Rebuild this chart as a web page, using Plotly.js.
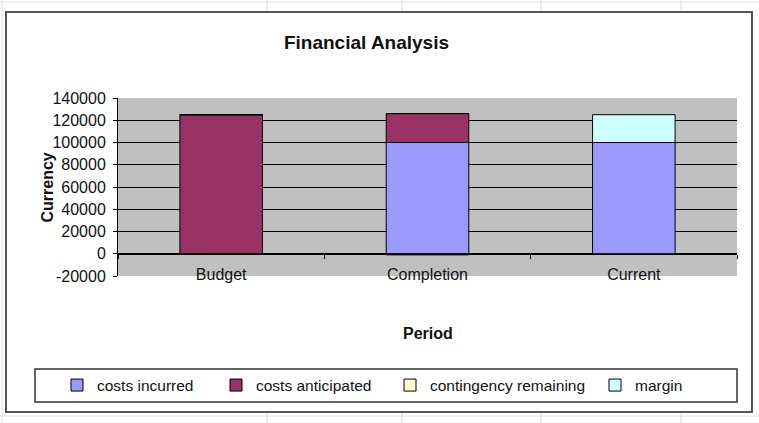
<!DOCTYPE html>
<html>
<head>
<meta charset="utf-8">
<script src="https://cdn.plot.ly/plotly-3.0.1.min.js"></script>
<style>
html, body { margin: 0; padding: 0; background: #ffffff; }
#chart { width: 759px; height: 423px; }
</style>
</head>
<body>
<div id="chart"></div>
<script>
// ---- data ----
const categories = ['Budget', 'Completion', 'Current'];
const costsIncurred = [0, 100000, 100000];
const costsAnticipated = [125000, 26000, 0];
const contingencyRemaining = [0, -1000, 0];
const margin = [0, 0, 25000];
const seriesNames = ['costs incurred', 'costs anticipated', 'contingency remaining', 'margin'];
const seriesColors = ['#9999FF', '#993366', '#FFFFCC', '#CCFFFF'];
const yTicks = [-20000, 0, 20000, 40000, 60000, 80000, 100000, 120000, 140000];

// ---- layout geometry (pixels) ----
const W = 759, H = 423;
const M = { l: 118, r: 22, t: 98, b: 147 };
const PW = W - M.l - M.r, PH = H - M.t - M.b;
const px2x = p => (p - M.l) / PW;
const py2y = p => (H - M.b - p) / PH;

const FONT = 'Liberation Sans, Arial, sans-serif';
const seriesValues = [costsIncurred, costsAnticipated, contingencyRemaining, margin];
const legendTextStart = [97, 256, 430, 635];
const legendIds = ['legend', 'legend2', 'legend3', 'legend4'];

const traces = seriesNames.map((name, i) => ({
  type: 'bar',
  name: name,
  x: categories,
  y: seriesValues[i],
  marker: { color: seriesColors[i], line: { color: '#000000', width: 1 } },
  legend: legendIds[i],
  showlegend: true,
  hoverinfo: 'x+y+name'
}));

const layout = {
  width: W, height: H,
  margin: M,
  showlegend: true,
  paper_bgcolor: '#ffffff',
  plot_bgcolor: '#C0C0C0',
  barmode: 'relative',
  bargap: 0.6,
  font: { family: FONT, size: 16, color: '#111111' },
  title: {
    text: 'Financial Analysis',
    font: { family: FONT, size: 19, weight: 'bold', color: '#111111' },
    x: 366.5 / W, xref: 'container', xanchor: 'center',
    y: 1 - 42 / H, yref: 'container', yanchor: 'middle'
  },
  xaxis: {
    type: 'category',
    anchor: 'free',
    position: (0 - yTicks[0]) / (yTicks[yTicks.length - 1] - yTicks[0]),
    showline: true, linecolor: '#000000', linewidth: 1,
    ticks: 'outside', ticklen: 4, tickcolor: '#000000',
    tickson: 'boundaries',
    showgrid: false,
    ticklabelstandoff: 6,
    tickfont: { family: FONT, size: 16, color: '#111111' },
    automargin: false
  },
  yaxis: {
    range: [yTicks[0], yTicks[yTicks.length - 1]],
    tickvals: yTicks,
    ticktext: yTicks.map(String),
    showline: true, linecolor: '#000000', linewidth: 1,
    ticks: 'outside', ticklen: 4, tickcolor: '#000000',
    showgrid: true, gridcolor: '#000000', gridwidth: 1,
    zeroline: true, zerolinecolor: '#000000', zerolinewidth: 1,
    ticklabelstandoff: 4,
    tickfont: { family: FONT, size: 16, color: '#111111' },
    automargin: false
  },
  annotations: [
    { text: 'Currency', textangle: -90, showarrow: false,
      xref: 'paper', yref: 'paper', x: px2x(46.5), y: py2y(188), xanchor: 'center', yanchor: 'middle',
      font: { family: FONT, size: 16, weight: 'bold', color: '#111111' } },
    { text: 'Period', showarrow: false,
      xref: 'paper', yref: 'paper', x: 0.5, y: py2y(333), xanchor: 'center', yanchor: 'middle',
      font: { family: FONT, size: 16, weight: 'bold', color: '#111111' } }
  ],
  shapes: [],
  hovermode: 'closest'
};

// four single-item legends placed along one row inside the legend frame
legendIds.forEach((id, i) => {
  layout[id] = {
    xref: 'container', yref: 'container',
    x: (legendTextStart[i] - 40) / W, xanchor: 'left',
    y: 1 - 385.5 / H, yanchor: 'middle',
    orientation: 'h',
    visible: true,
    bgcolor: 'rgba(0,0,0,0)', borderwidth: 0,
    font: { family: FONT, size: 15.5, color: '#111111' },
    itemwidth: 30
  };
});

// spreadsheet background lines
const sheetCols = [267, 402, 541, 681];
sheetCols.forEach(c => {
  layout.shapes.push({ type: 'line', xref: 'paper', yref: 'paper', x0: px2x(c), x1: px2x(c), y0: py2y(0), y1: py2y(12), line: { color: '#d8d8d8', width: 1 }, layer: 'below' });
  layout.shapes.push({ type: 'line', xref: 'paper', yref: 'paper', x0: px2x(c), x1: px2x(c), y0: py2y(412), y1: py2y(423), line: { color: '#d8d8d8', width: 1 }, layer: 'below' });
});
layout.shapes.push({ type: 'line', xref: 'paper', yref: 'paper', x0: px2x(0), x1: px2x(W), y0: py2y(2), y1: py2y(2), line: { color: '#e0e0e0', width: 1 }, layer: 'below' });
layout.shapes.push({ type: 'line', xref: 'paper', yref: 'paper', x0: px2x(2), x1: px2x(2), y0: py2y(0), y1: py2y(H), line: { color: '#e0e0e0', width: 1 }, layer: 'below' });
layout.shapes.push({ type: 'line', xref: 'paper', yref: 'paper', x0: px2x(0), x1: px2x(W), y0: py2y(416), y1: py2y(416), line: { color: '#e0e0e0', width: 1 }, layer: 'below' });

// chart frame
layout.shapes.push({ type: 'rect', xref: 'paper', yref: 'paper', x0: px2x(6), x1: px2x(752), y0: py2y(412), y1: py2y(12), line: { color: '#555555', width: 2 }, fillcolor: 'rgba(0,0,0,0)', layer: 'below' });
// legend frame
layout.shapes.push({ type: 'rect', xref: 'paper', yref: 'paper', x0: px2x(35), x1: px2x(737), y0: py2y(402), y1: py2y(369), line: { color: '#333333', width: 1.5 }, fillcolor: 'rgba(0,0,0,0)', layer: 'above' });

Plotly.newPlot('chart', traces, layout, { displayModeBar: false, responsive: false });
</script>
</body>
</html>
